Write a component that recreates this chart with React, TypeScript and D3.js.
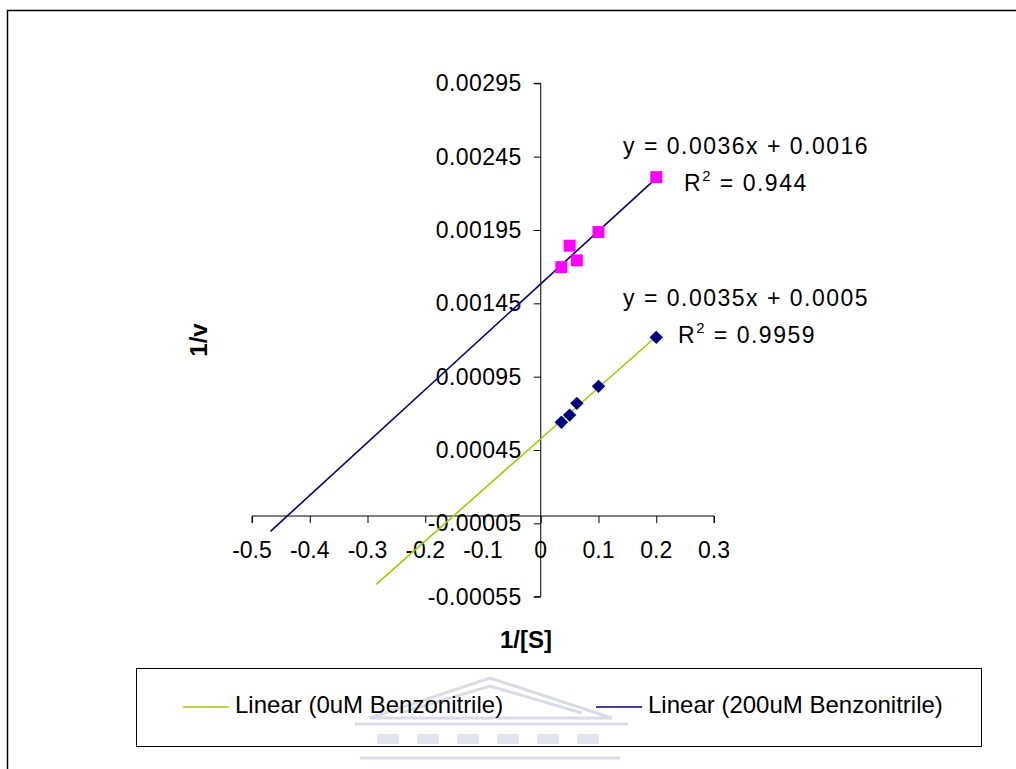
import React, { useEffect, useRef } from "react";
import * as d3 from "d3";

// 1/[S] values (shared by both series)
const invS = [0.2, 0.1, 0.0625, 0.05, 0.0357];
// 1/v, no inhibitor
const invV0 = [0.001218, 0.000884, 0.000768, 0.000688, 0.000639];
// 1/v, 200uM benzonitrile
const invV200 = [0.00231, 0.001936, 0.001743, 0.001843, 0.001697];

// where Excel's backward forecast ends each trendline
const trendFrom = [-0.285, -0.468];

const xTicks = [-0.5, -0.4, -0.3, -0.2, -0.1, 0, 0.1, 0.2, 0.3];
const yTicks = [0.00295, 0.00245, 0.00195, 0.00145, 0.00095, 0.00045, -0.00005, -0.00055];

const seriesNames = ["Linear (0uM Benzonitrile)", "Linear (200uM Benzonitrile)"];
const equations = ["y = 0.0035x + 0.0005", "y = 0.0036x + 0.0016"];
const r2Values = ["0.9959", "0.944"];

const FONT = "'Liberation Sans', Arial, sans-serif";

// excel uses a plain hyphen for negatives
const hyphen = (s: string) => s.replace("\u2212", "-");

function linreg(xs: number[], ys: number[]) {
  const mx = d3.mean(xs)!;
  const my = d3.mean(ys)!;
  let sxy = 0;
  let sxx = 0;
  xs.forEach((x, i) => {
    sxy += (x - mx) * (ys[i] - my);
    sxx += (x - mx) * (x - mx);
  });
  const slope = sxy / sxx;
  return { slope, intercept: my - slope * mx };
}

const Chart: React.FC = () => {
  const svgRef = useRef<SVGSVGElement>(null);

  useEffect(() => {
    if (!svgRef.current) return;
    const svg = d3.select(svgRef.current);
    svg.selectAll("*").remove();

    // outer chart border
    svg
      .append("rect")
      .attr("x", 7.5)
      .attr("y", 10.5)
      .attr("width", 1030)
      .attr("height", 800)
      .attr("fill", "#fff")
      .attr("stroke", "#000")
      .attr("stroke-width", 1.5);

    // faint watermark at the bottom
    const wm = svg.append("g").attr("fill", "none").attr("stroke", "#d9dce6").attr("stroke-width", 3);
    wm.append("path").attr("d", "M370,718 L490,678 L612,718 Z");
    wm.append("path").attr("d", "M400,713 L490,686 L582,713");
    wm.append("line").attr("x1", 355).attr("x2", 628).attr("y1", 724).attr("y2", 724);
    d3.range(6).forEach((i) => {
      wm.append("rect")
        .attr("x", 377 + i * 40)
        .attr("y", 734)
        .attr("width", 22)
        .attr("height", 10)
        .attr("fill", "#e3e5ee")
        .attr("stroke", "none");
    });
    wm.append("line").attr("x1", 360).attr("x2", 620).attr("y1", 758).attr("y2", 758);

    const x = d3.scaleLinear().domain([-0.5, 0.3]).range([252, 714]);
    const y = d3.scaleLinear().domain([-0.00055, 0.00295]).range([596.7, 83.3]);

    const x0 = x(0);
    const y0 = y(0);

    // x axis (crosses at y = 0)
    const xAxis = svg
      .append("g")
      .attr("transform", `translate(0,${y0})`)
      .call(d3.axisBottom(x).tickValues(xTicks).tickSize(7).tickFormat(() => ""));
    xAxis.selectAll(".domain").attr("d", `M${x(-0.5)},7V0H${x(0.3)}V7`);

    // y axis (crosses at x = 0)
    const yAxis = svg
      .append("g")
      .attr("transform", `translate(${x0},0)`)
      .call(d3.axisLeft(y).tickValues(yTicks).tickSize(7).tickFormat(() => ""));
    yAxis.selectAll(".domain").attr("d", `M-7,${y(0.00295)}H0V${y(-0.00055)}H-7`);

    svg.selectAll(".domain, .tick line").attr("stroke", "#000").attr("stroke-width", 1);

    // tick labels
    svg
      .append("g")
      .selectAll("text")
      .data(xTicks)
      .enter()
      .append("text")
      .attr("x", (d) => x(d))
      .attr("y", y0 + 42)
      .attr("text-anchor", "middle")
      .style("font-family", FONT)
      .style("font-size", "23px")
      .text((d) => hyphen(d3.format("")(d)));

    svg
      .append("g")
      .selectAll("text")
      .data(yTicks)
      .enter()
      .append("text")
      .attr("x", x0 - 19)
      .attr("y", (d) => y(d) + 8)
      .attr("text-anchor", "end")
      .style("font-family", FONT)
      .style("font-size", "23px")
      .style("letter-spacing", "0.4px")
      .text((d) => hyphen(d3.format(".5f")(d)));

    // trendlines
    const colors = ["#99cc00", "#000080"];
    [invV0, invV200].forEach((vals, i) => {
      const { slope, intercept } = linreg(invS, vals);
      const xs = [trendFrom[i], d3.max(invS)!];
      svg
        .append("path")
        .attr(
          "d",
          d3.line<number>()
            .x((d) => x(d))
            .y((d) => y(slope * d + intercept))(xs)!,
        )
        .attr("fill", "none")
        .attr("stroke", colors[i])
        .attr("stroke-width", 1.6);
    });

    // markers
    svg
      .append("g")
      .selectAll("path")
      .data(invS)
      .enter()
      .append("path")
      .attr("d", d3.symbol(d3.symbolSquare, 144)()!)
      .attr("transform", (d, i) => `translate(${x(d)},${y(invV200[i])})`)
      .attr("fill", "#ff00ff");

    svg
      .append("g")
      .selectAll("path")
      .data(invS)
      .enter()
      .append("path")
      .attr("d", d3.symbol(d3.symbolSquare, 90)()!)
      .attr("transform", (d, i) => `translate(${x(d)},${y(invV0[i])}) rotate(45)`)
      .attr("fill", "#000080");

    // trendline equations
    const eqPos = [
      { x: 623, y: 306, rx: 678, ry: 343 },
      { x: 623, y: 154, rx: 684, ry: 191 },
    ];
    eqPos.forEach((p, i) => {
      svg
        .append("text")
        .attr("x", p.x)
        .attr("y", p.y)
        .style("font-family", FONT)
        .style("font-size", "23px")
        .style("letter-spacing", "1.5px")
        .text(equations[i]);
      const r = svg
        .append("text")
        .attr("x", p.rx)
        .attr("y", p.ry)
        .style("font-family", FONT)
        .style("font-size", "23px")
        .style("letter-spacing", "1.5px");
      r.append("tspan").text("R");
      r.append("tspan").attr("dy", -10).style("font-size", "15px").text("2");
      r.append("tspan").attr("dy", 10).text(` = ${r2Values[i]}`);
    });

    // axis titles
    svg
      .append("text")
      .attr("transform", "translate(207,340) rotate(-90)")
      .attr("text-anchor", "middle")
      .style("font-family", FONT)
      .style("font-size", "24px")
      .style("font-weight", "bold")
      .text("1/v");
    svg
      .append("text")
      .attr("x", 526)
      .attr("y", 648)
      .attr("text-anchor", "middle")
      .style("font-family", FONT)
      .style("font-size", "24px")
      .style("font-weight", "bold")
      .text("1/[S]");

    // legend
    svg
      .append("rect")
      .attr("x", 136.5)
      .attr("y", 668.5)
      .attr("width", 845)
      .attr("height", 78)
      .attr("fill", "none")
      .attr("stroke", "#000")
      .attr("stroke-width", 1);
    const legendX = [183, 596];
    seriesNames.forEach((name, i) => {
      svg
        .append("line")
        .attr("x1", legendX[i])
        .attr("x2", legendX[i] + 46)
        .attr("y1", 707)
        .attr("y2", 707)
        .attr("stroke", colors[i])
        .attr("stroke-width", 1.6);
      svg
        .append("text")
        .attr("x", legendX[i] + 52)
        .attr("y", 713)
        .style("font-family", FONT)
        .style("font-size", "24px")
        .text(name);
    });
  }, []);

  return (
    <svg
      ref={svgRef}
      width={1016}
      height={769}
      style={{ position: "absolute", left: 0, top: 0, background: "#fff" }}
    />
  );
};

export default function App() {
  return <Chart />;
}
